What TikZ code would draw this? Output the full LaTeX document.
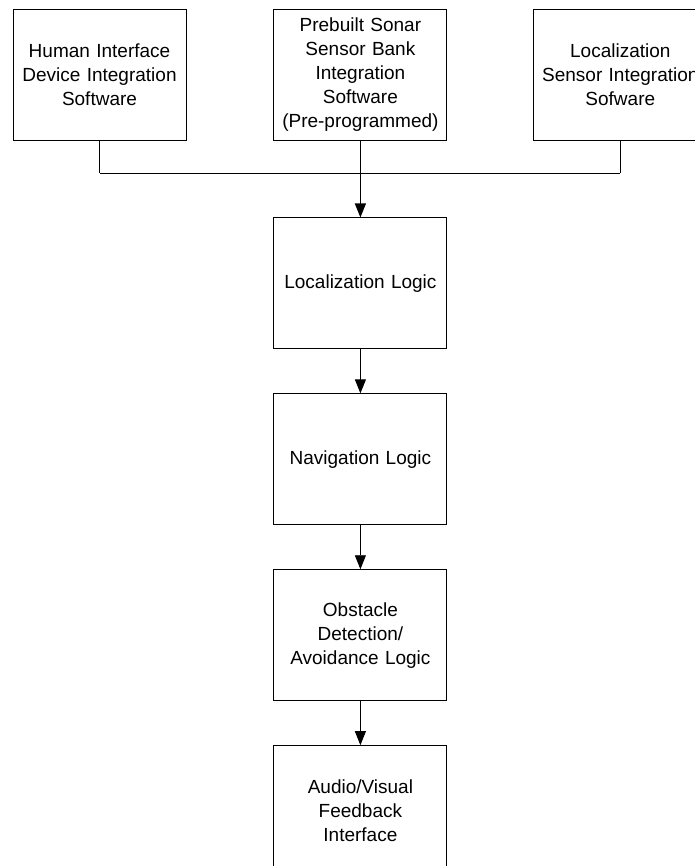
\documentclass[tikz,border=0pt]{standalone}
\usepackage{fontspec}
\setmainfont{Liberation Sans}
\usetikzlibrary{arrows.meta}
\usetikzlibrary{positioning}

\begin{document}
\begin{tikzpicture}[x=1pt,y=1pt,->,>={Triangle[length=14pt,width=11pt]},line width=0.9pt,
    node distance=44pt,
    block/.style={rectangle,draw,minimum width=173pt,minimum height=131pt,text width=165pt,align=center,
      font=\fontsize{19}{24}\selectfont}]

   \useasboundingbox (0,0) rectangle (694,-866);

   % input software
   \node[block] (hid) at (99.5,-74.5) {Human Interface\\Device Integration\\Software};
   \node[block,right=87pt of hid] (sonar) {Prebuilt Sonar\\Sensor Bank\\Integration\\Software\\(Pre-programmed)};
   \node[block,right=86pt of sonar] (locsensor) {Localization\\Sensor Integration\\Sofware};

   % logic chain
   \node[block,below=77pt of sonar] (loc) {Localization Logic};
   \node[block,below=of loc] (nav) {Navigation Logic};
   \node[block,below=of nav] (obst) {Obstacle\\Detection/\\Avoidance Logic};
   \node[block,below=of obst] (av) {Audio/Visual\\Feedback\\Interface};

   \coordinate (bus) at ([yshift=-33pt]hid.south);

   \path[-] (hid.south) edge (bus);
   \path[-] (bus) edge (bus -| locsensor.south);
   \path[-] (bus -| locsensor.south) edge (locsensor.south);
   \path (sonar) edge[line width=1.3pt] (loc);
   \path (loc) edge (nav);
   \path (nav) edge (obst);
   \path (obst) edge (av);
  \end{tikzpicture}
\end{document}
